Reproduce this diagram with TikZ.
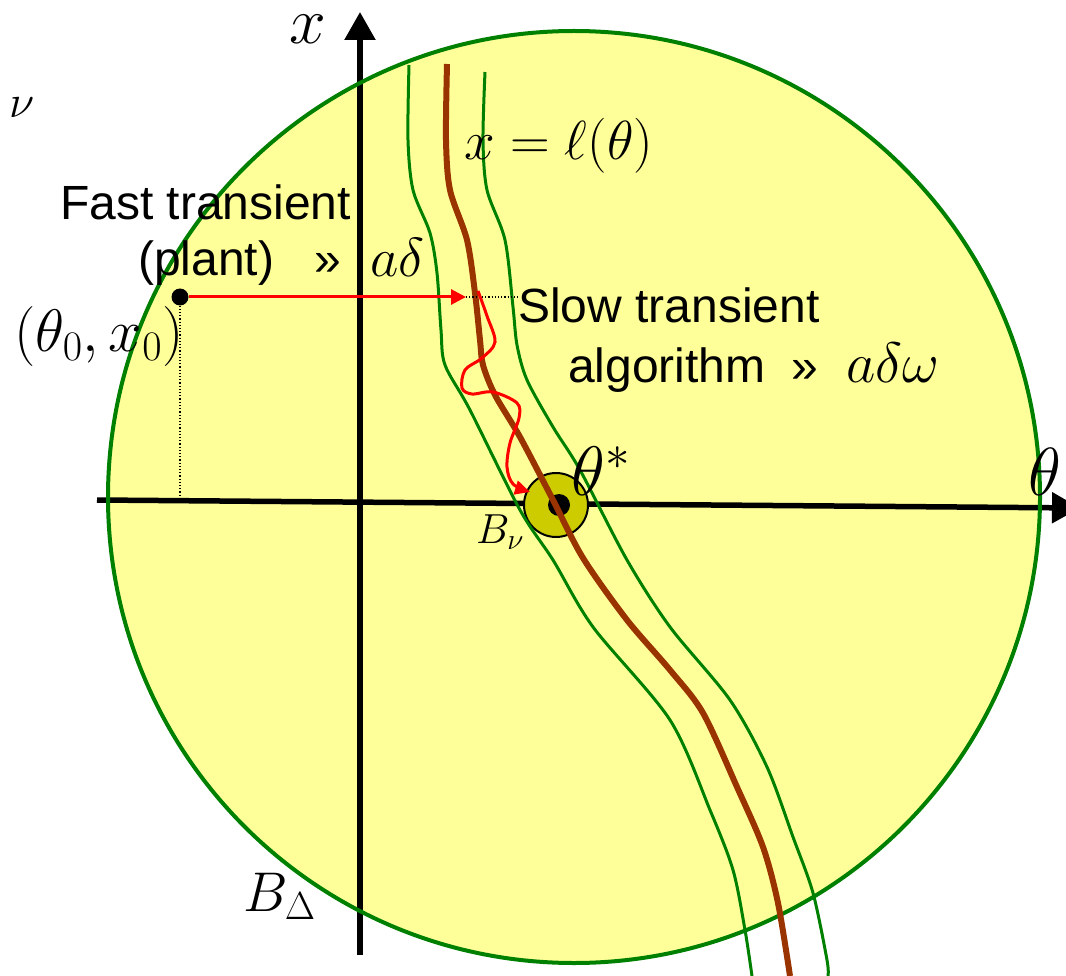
\RequirePackage{fix-cm}
\documentclass[tikz,border=0pt]{standalone}
\usepackage{fontspec}
\newfontfamily\arialfont{Liberation Sans}
\usetikzlibrary{arrows.meta}
\definecolor{bgyellow}{HTML}{FFFF99}
\definecolor{dgreen}{HTML}{008000}
\definecolor{trackbrown}{HTML}{993300}
\definecolor{ballolive}{HTML}{CCCC00}
\begin{document}
\begin{tikzpicture}[x=1pt,y=-1pt,
  lbl/.style={inner sep=0pt, anchor=base west},
  sans/.style={lbl, font=\arialfont\fontsize{48}{56}\selectfont},
  axisline/.style={line width=5.5pt, -{Triangle[length=28pt,width=30pt]}},
  band/.style={dgreen, line width=3pt},
  track/.style={trackbrown, line width=6pt},
  redline/.style={red, line width=3pt},
  guide/.style={black, dotted, line width=1.2pt}]
\useasboundingbox (0,0) rectangle (1066,976);
% region B_Delta
\fill[bgyellow] (574,497) circle[radius=466];
% axes
\coordinate (xbot) at (360,955);
\coordinate (xtop) at (360,12);
\coordinate (tl) at (97,500);
\coordinate (tr) at (1080,508);
\draw[axisline] (xbot) -- (xtop);
\draw[axisline] (tl) -- (tr);
\draw[dgreen, line width=4pt] (574,497) circle[radius=466];
% small ball B_nu
\node[draw, circle, fill=ballolive, minimum size=64pt, inner sep=0pt, line width=2pt] (ball) at (556,505) {};
\node[circle, fill=black, minimum size=22pt, inner sep=0pt] (tstar) at (559,505) {};
% band around the manifold
\draw[band] plot[smooth] coordinates {(409,65) (408,140) (413,190) (430,233) (437,273) (441,330) (445,365) (470,410) (520,510) (553,560) (593,627) (670,720) (710,810) (733,870) (745,930) (752,976)};
\draw[band] plot[smooth] coordinates {(485,72) (483,140) (487,190) (505,240) (513,307) (517,345) (527,380) (553,427) (580,470) (627,560) (670,627) (730,700) (767,767) (793,837) (813,893) (827,960) (828,976)};
% manifold x = l(theta)
\draw[track] plot[smooth] coordinates {(447,64) (446,140) (450,190) (467,240) (475,293) (480,340) (483,365) (495,395) (520,437) (553,500) (583,558) (627,620) (670,670) (703,713) (737,787) (763,847) (778,903) (790,976)};
% initial point and fast transient
\node[circle, fill=black, minimum size=17pt, inner sep=0pt] (p0) at (180,297) {};
\coordinate (ptip) at (466,297);
\coordinate (pfoot) at (180,495);
\coordinate (dotend) at (520,297);
\draw[guide] (p0) -- (pfoot);
\draw[guide] (ptip) -- (dotend);
\draw[redline, -{Triangle[length=15pt,width=15pt]}] (p0) -- (ptip);
% slow transient
\draw[redline, -{Triangle[length=15pt,width=14pt]}] plot[smooth, tension=0.55] coordinates {(478,291) (487,316) (495,342) (482,358) (465,370) (462,388) (472,394) (493,392) (517,403) (519,418) (510,443) (507,467) (513,484) (530,492)};
% labels
\node[lbl, font=\fontsize{66}{76}\selectfont] (xlab) at (289,44) {$x$};
\node[lbl, font=\fontsize{46}{52}\selectfont] (nulab) at (9,118) {$\nu$};
\node[lbl, font=\fontsize{68}{78}\selectfont] (thlab) at (1028,495) {$\theta$};
\node[lbl, font=\fontsize{55}{62}\selectfont] (ell) at (464,160) {$x=\ell(\theta)$};
\node[sans] (fast) at (60,220) {Fast transient};
\node[sans] (plant) at (138,276) {(plant)};
\node[sans] (gg1) at (314,276) {»};
\node[lbl, font=\fontsize{55}{62}\selectfont] (ad) at (370,277) {$a\delta$};
\node[lbl, font=\fontsize{60}{68}\selectfont] (p0lab) at (14,352) {$(\theta_0,x_0)$};
\node[sans] (slow) at (518,323) {Slow transient};
\node[sans] (algo) at (568,383) {algorithm};
\node[sans] (gg2) at (791,383) {»};
\node[lbl, font=\fontsize{57}{64}\selectfont] (adw) at (846,383) {$a\delta\omega$};
\node[lbl, font=\fontsize{70}{80}\selectfont] (tstarlab) at (571,495) {$\theta^*$};
\node[lbl, font=\fontsize{42}{48}\selectfont] (Bnu) at (476,543) {$B_\nu$};
\node[lbl, font=\fontsize{56}{64}\selectfont] (Bdelta) at (243,911) {$B_\Delta$};
\end{tikzpicture}
\end{document}
